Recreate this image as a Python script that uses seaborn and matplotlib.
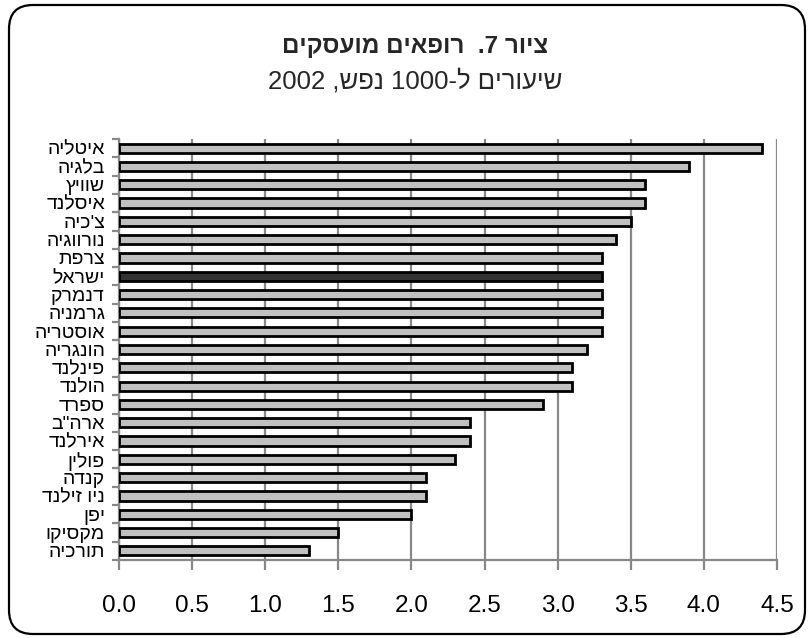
import matplotlib
matplotlib.use("Agg")
import matplotlib.pyplot as plt
import matplotlib.ticker as mticker
import seaborn as sns
import pandas as pd
import re
from matplotlib.patches import FancyBboxPatch
from matplotlib.transforms import IdentityTransform

# Employed physicians per 1000 population, 2002
countries = ["איטליה", "בלגיה", "שוויץ", "איסלנד", "צ'כיה", "נורווגיה", "צרפת",
             "ישראל", "דנמרק", "גרמניה", "אוסטריה", "הונגריה", "פינלנד", "הולנד",
             "ספרד", 'ארה"ב', "אירלנד", "פולין", "קנדה", "ניו זילנד", "יפן",
             "מקסיקו", "תורכיה"]
rates = [4.4, 3.9, 3.6, 3.6, 3.5, 3.4, 3.3, 3.3, 3.3, 3.3, 3.3, 3.2, 3.1, 3.1,
         2.9, 2.4, 2.4, 2.3, 2.1, 2.1, 2.0, 1.5, 1.3]
highlight = "ישראל"
x_ticks = [0.0, 0.5, 1.0, 1.5, 2.0, 2.5, 3.0, 3.5, 4.0, 4.5]
title = "ציור 7.  רופאים מועסקים"
subtitle = "שיעורים ל-1000 נפש, 2002"


def visual(text):
    """Lay out a right-to-left string for left-to-right drawing, keeping digit runs intact."""
    tokens = re.findall(r"\d+|.", text)
    return "".join(reversed(tokens))


sns.set_theme(style="white")
plt.rcParams["font.family"] = ["Liberation Sans", "DejaVu Sans"]

W, H = 811, 638
fig = plt.figure(figsize=(W / 100, H / 100), dpi=100)
ax = fig.add_axes([119 / W, 1 - 560 / H, 658 / W, 421 / H])

df = pd.DataFrame({"country": [visual(c) for c in countries], "rate": rates})
palette = {visual(c): ("#333333" if c == highlight else "#c0c0c0") for c in countries}

sns.barplot(data=df, x="rate", y="country", hue="country", palette=palette,
            order=df["country"], hue_order=df["country"], legend=False,
            width=0.5, edgecolor="black", linewidth=2.0, saturation=1, ax=ax, zorder=3)

ax.set_xlim(0, 4.5)
ax.set_xticks(x_ticks)
ax.set_xticklabels([f"{t:.1f}" for t in x_ticks], fontsize=17.5)
ax.xaxis.grid(True, color="#888888", linewidth=1.6, zorder=0)
ax.set_axisbelow(True)

ax.set_xlabel("")
ax.set_ylabel("")
ax.set_ylim(len(countries) - 0.5, -0.5)
ax.yaxis.set_minor_locator(mticker.FixedLocator([i - 0.5 for i in range(len(countries) + 1)]))
ax.tick_params(axis="y", which="major", length=0, pad=10, labelsize=14, colors="black")
ax.tick_params(axis="y", which="minor", length=5, width=1.6, color="#888888", left=True)
ax.tick_params(axis="x", which="major", length=7, width=1.6, color="#888888",
               pad=18, bottom=True, labelcolor="black")

for side in ("top", "right"):
    ax.spines[side].set_visible(False)
for side in ("left", "bottom"):
    ax.spines[side].set_color("#888888")
    ax.spines[side].set_linewidth(1.6)

fig.text(415 / W, 1 - 47 / H, visual(title), ha="center", va="center",
         fontsize=17.5, fontweight="bold")
fig.text(415 / W, 1 - 81 / H, visual(subtitle), ha="center", va="center",
         fontsize=18.5)

frame = FancyBboxPatch((9, 4), 796, 629, boxstyle="round,pad=0,rounding_size=24",
                       transform=IdentityTransform(), facecolor="none",
                       edgecolor="black", linewidth=1.6)
fig.add_artist(frame)

fig.savefig("out.png", dpi=100)
